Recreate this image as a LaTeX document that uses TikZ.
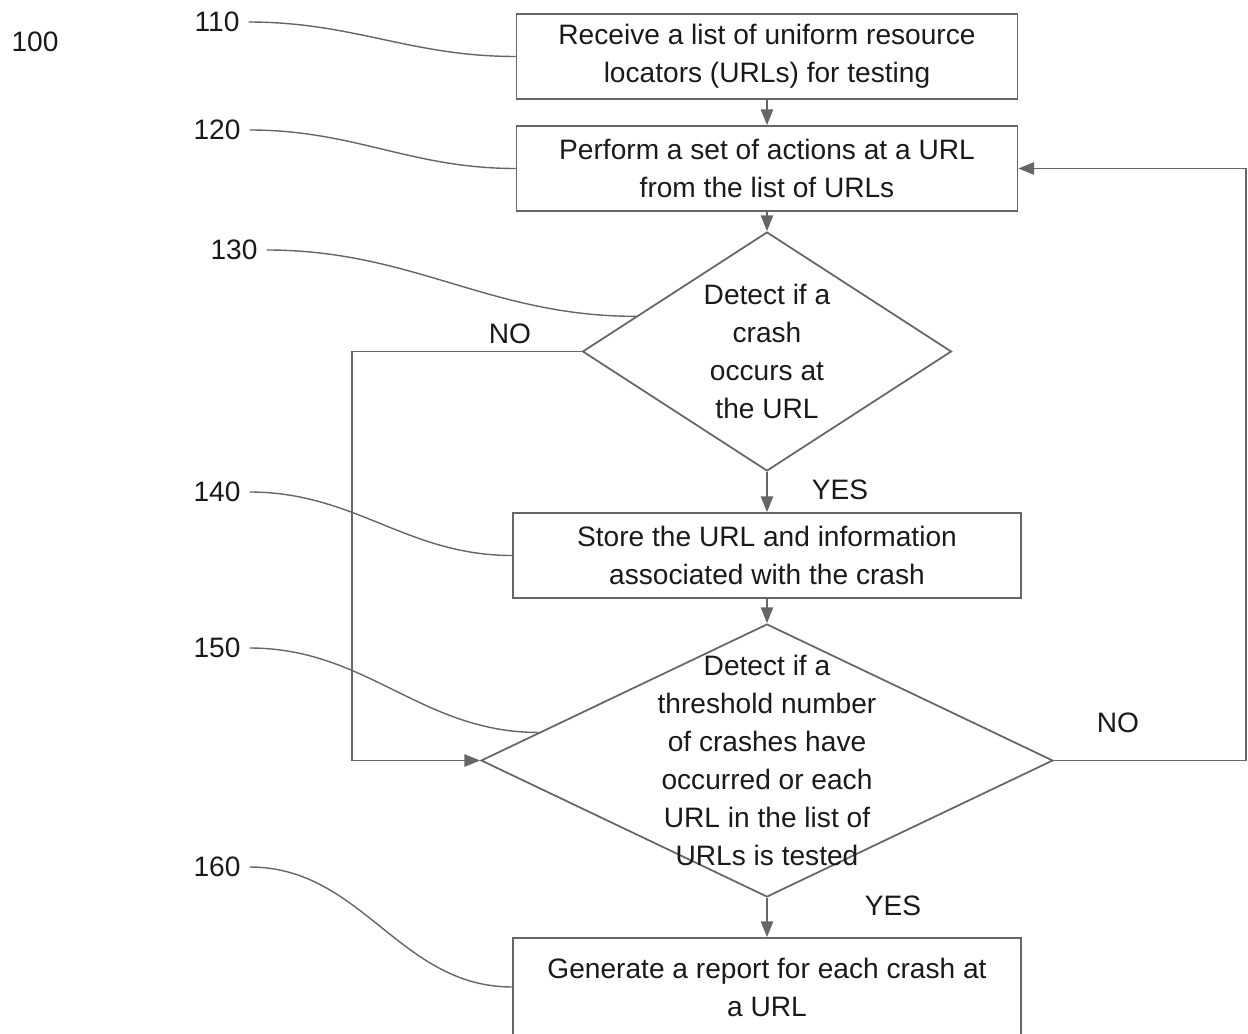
\documentclass[tikz,border=0pt]{standalone}
\usepackage{fontspec}
\setsansfont{Liberation Sans}
\usetikzlibrary{arrows.meta,shapes.geometric,positioning}
\tikzstyle{every picture}+=[font=\sffamily]
\definecolor{linegray}{HTML}{666666}
\definecolor{textblack}{HTML}{1A1A1A}

\begin{document}
\begin{tikzpicture}
		[x=0.02cm, y=-0.02cm, font=\sffamily\fontsize{16}{21.6}\selectfont,
		every node/.append style={text=textblack},
		box/.style={draw=linegray, line width=1pt, minimum width=10.02cm, minimum height=1.7cm, align=center},
		decision/.style={draw=linegray, line width=1pt, diamond, inner sep=0pt},
		flow/.style={draw=linegray, line width=1pt, -{Triangle[length=9pt,width=7pt]}},
		leader/.style={draw=linegray, line width=0.8pt},
		refnum/.style={inner sep=5pt}]
		
		\useasboundingbox (0,0) rectangle (1248,1034);
		
		% steps ---------------------------------------------------
		\node[box] (b110) at (767,56.5) {Receive a list of uniform resource\\locators (URLs) for testing};
		\node[box] (b120) at (767,168.5) {Perform a set of actions at a URL\\from the list of URLs};
		\node[decision, minimum width=7.38cm, minimum height=4.78cm,
			label={[align=center]center:Detect if a\\crash\\occurs at\\the URL}] (d130) at (767,351.5) {};
		\node[box, minimum width=10.16cm] (b140) at (767,555.5) {Store the URL and information\\associated with the crash};
		\node[decision, minimum width=11.44cm, minimum height=5.46cm,
			label={[align=center]center:Detect if a\\threshold number\\of crashes have\\occurred or each\\URL in the list of\\URLs is tested}] (d150) at (767,760.5) {};
		\node[box, minimum width=10.16cm, minimum height=1.96cm] (b160) at (767,987) {Generate a report for each crash at\\a URL};
		
		% flow ----------------------------------------------------
		\draw[flow] (b110) -- (b120);
		\draw[flow] (b120) -- (d130);
		\draw[flow] (d130) -- (b140);
		\draw[flow] (b140) -- (d150);
		\draw[flow] (d150) -- (b160);
		
		\coordinate (noL) at (352,0);
		\coordinate (noR) at (1246,0);
		\draw[flow] (d130.west) -- (d130.west -| noL) |- (d150.west);
		\draw[flow] (d150.east) -- (d150.east -| noR) |- (b120.east);
		
		\node (no130) at (510,334) {NO};
		\node (yes130) at (840,490) {YES};
		\node (no150) at (1118,723) {NO};
		\node (yes150) at (893,906) {YES};
		
		% reference numerals --------------------------------------
		\node[refnum] (r100) at (35,42) {100};
		\node[refnum] (r110) at (217,22) {110};
		\node[refnum] (r120) at (217,130) {120};
		\node[refnum] (r130) at (234,250) {130};
		\node[refnum] (r140) at (217,492) {140};
		\node[refnum] (r150) at (217,648) {150};
		\node[refnum] (r160) at (217,867) {160};
		
		\draw[leader] (r110.east) to[out=0,in=180] (b110.west);
		\draw[leader] (r120.east) to[out=0,in=180] (b120.west);
		\draw[leader] (r130.east) to[out=0,in=180] (d130.165);
		\draw[leader] (r140.east) to[out=0,in=180] (b140.west);
		\draw[leader] (r150.east) to[out=0,in=180] (d150.173);
		\draw[leader] (r160.east) to[out=0,in=180] (b160.west);
\end{tikzpicture}
\end{document}
